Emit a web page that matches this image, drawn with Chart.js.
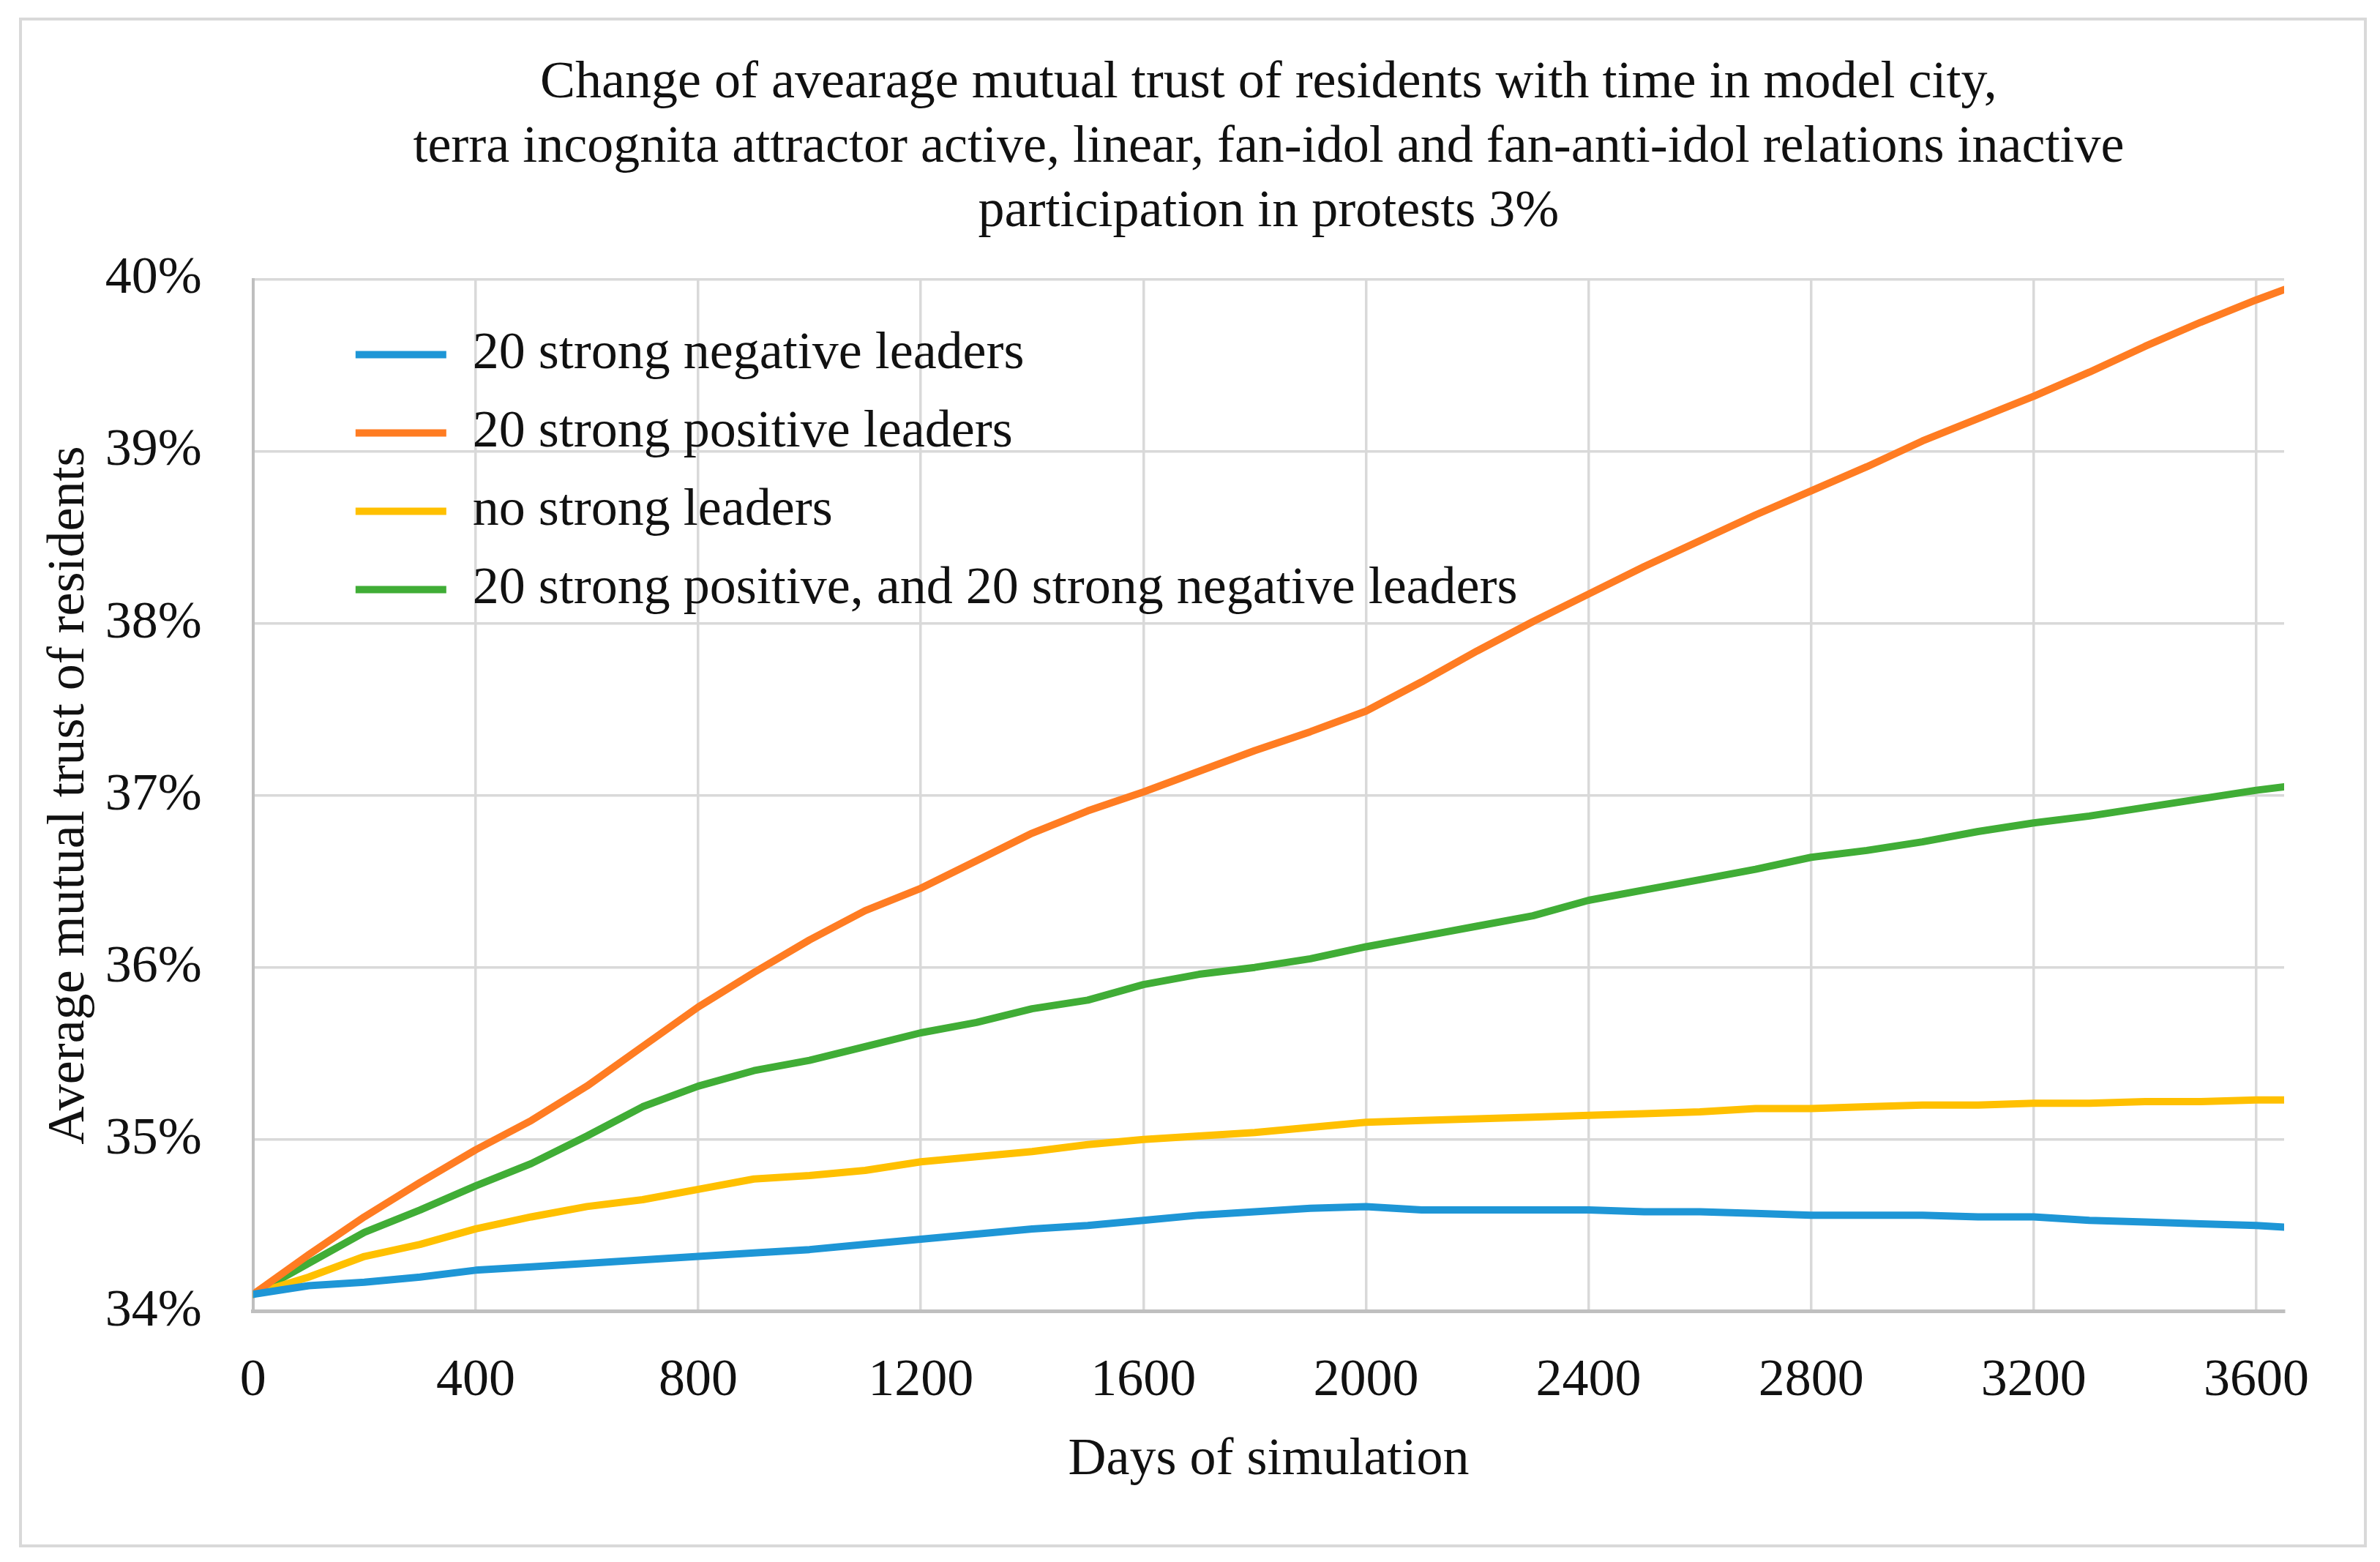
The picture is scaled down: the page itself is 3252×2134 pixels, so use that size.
<!DOCTYPE html>
<html>
<head>
<meta charset="utf-8">
<script src="https://cdn.jsdelivr.net/npm/chart.js@4"></script>
<style>
  body { margin: 0; background: #fff; }
  #frame {
    position: absolute; left: 26px; top: 24px;
    width: 3208px; height: 2090px;
    box-sizing: border-box; border: 4px solid #d9d9d9;
    pointer-events: none;
  }
  #trustChart { position: absolute; left: 0; top: 0; }
</style>
</head>
<body>
<canvas id="trustChart" width="3252" height="2134"></canvas>
<div id="frame"></div>
<script>
// days of simulation (x values)
const days = [0, 100, 200, 300, 400, 500, 600, 700, 800, 900, 1000, 1100, 1200,
              1300, 1400, 1500, 1600, 1700, 1800, 1900, 2000, 2100, 2200, 2300,
              2400, 2500, 2600, 2700, 2800, 2900, 3000, 3100, 3200, 3300, 3400,
              3500, 3600, 3650];

// tick labels
const xTicks = [0, 400, 800, 1200, 1600, 2000, 2400, 2800, 3200, 3600];
const yTicks = [34, 35, 36, 37, 38, 39, 40];

// average mutual trust, %
const negativeLeaders = [34.10, 34.15, 34.17, 34.20, 34.24, 34.26, 34.28, 34.30, 34.32, 34.34,
                         34.36, 34.39, 34.42, 34.45, 34.48, 34.50, 34.53, 34.56, 34.58, 34.60,
                         34.61, 34.59, 34.59, 34.59, 34.59, 34.58, 34.58, 34.57, 34.56, 34.56,
                         34.56, 34.55, 34.55, 34.53, 34.52, 34.51, 34.50, 34.49];
const positiveLeaders = [34.10, 34.33, 34.55, 34.75, 34.94, 35.11, 35.31, 35.54, 35.77, 35.97,
                         36.16, 36.33, 36.46, 36.62, 36.78, 36.91, 37.02, 37.14, 37.26, 37.37,
                         37.49, 37.66, 37.84, 38.01, 38.17, 38.33, 38.48, 38.63, 38.77, 38.91,
                         39.06, 39.19, 39.32, 39.46, 39.61, 39.75, 39.88, 39.94];
const noLeaders = [34.10, 34.20, 34.32, 34.39, 34.48, 34.55, 34.61, 34.65, 34.71, 34.77,
                   34.79, 34.82, 34.87, 34.90, 34.93, 34.97, 35.00, 35.02, 35.04, 35.07,
                   35.10, 35.11, 35.12, 35.13, 35.14, 35.15, 35.16, 35.18, 35.18, 35.19,
                   35.20, 35.20, 35.21, 35.21, 35.22, 35.22, 35.23, 35.23];
const bothLeaders = [34.10, 34.28, 34.46, 34.59, 34.73, 34.86, 35.02, 35.19, 35.31, 35.40,
                     35.46, 35.54, 35.62, 35.68, 35.76, 35.81, 35.90, 35.96, 36.00, 36.05,
                     36.12, 36.18, 36.24, 36.30, 36.39, 36.45, 36.51, 36.57, 36.64, 36.68,
                     36.73, 36.79, 36.84, 36.88, 36.93, 36.98, 37.03, 37.05];

const seriesNames = ['20 strong negative leaders', '20 strong positive leaders',
                     'no strong leaders', '20 strong positive, and 20 strong negative leaders'];
const seriesColors = ['#1E96D6', '#FF7C22', '#FFC000', '#40AD36'];

const titleLines = ['Change of avearage mutual trust of residents with time in model city,',
                    'terra incognita attractor active, linear, fan-idol and fan-anti-idol relations inactive',
                    'participation in protests 3%'];

const FONT = "'Liberation Serif', 'Times New Roman', serif";
const X_TICK_PAD = 52;
const Y_TICK_PAD = 70;

function toPoints(values) {
  return values.map((v, i) => ({ x: days[i], y: v }));
}

// put the legend box inside the plot, near its top-left corner
const legendInPlot = {
  id: 'legendInPlot',
  afterLayout(chart) {
    const lg = chart.legend;
    const area = chart.chartArea;
    lg.left = area.left + 105;
    lg.top = area.top + 32;
    lg.right = area.right;
    lg.bottom = area.bottom;
  }
};

const ctx = document.getElementById('trustChart').getContext('2d');
const allSeries = [negativeLeaders, positiveLeaders, noLeaders, bothLeaders];

new Chart(ctx, {
  type: 'line',
  data: {
    datasets: allSeries.map((values, i) => ({
      label: seriesNames[i],
      data: toPoints(values),
      borderColor: seriesColors[i],
      backgroundColor: seriesColors[i],
      borderWidth: 10,
      borderCapStyle: 'round',
      borderJoinStyle: 'round',
      pointRadius: 0,
      tension: 0
    }))
  },
  options: {
    responsive: false,
    devicePixelRatio: 1,
    animation: false,
    layout: { padding: { left: 36, right: 131, top: 70, bottom: 60 } },
    scales: {
      x: {
        type: 'linear',
        min: 0,
        max: 3650,
        afterBuildTicks: function (axis) {
          axis.ticks = xTicks.map(v => ({ value: v }));
        },
        // the tick padding ends up counted twice in the axis size
        afterFit: function (axis) {
          axis.height -= X_TICK_PAD;
        },
        grid: { color: '#d9d9d9', lineWidth: 3.5, drawTicks: false },
        border: { color: '#bfbfbf', width: 5 },
        ticks: {
          autoSkip: false,
          maxRotation: 0,
          minRotation: 0,
          padding: X_TICK_PAD,
          color: '#111',
          font: { family: FONT, size: 72 },
          callback: function (value) {
            return String(value);
          }
        },
        title: {
          display: true,
          text: 'Days of simulation',
          color: '#111',
          font: { family: FONT, size: 72, lineHeight: 1.22 },
          padding: { top: 21, bottom: 35 }
        }
      },
      y: {
        min: 34,
        max: 40,
        afterBuildTicks: function (axis) {
          axis.ticks = yTicks.map(v => ({ value: v }));
        },
        afterFit: function (axis) {
          axis.width -= Y_TICK_PAD;
        },
        grid: { color: '#d9d9d9', lineWidth: 3.5, drawTicks: false },
        border: { color: '#bfbfbf', width: 4 },
        ticks: {
          padding: Y_TICK_PAD,
          color: '#111',
          font: { family: FONT, size: 72 },
          callback: function (value) {
            return value + '%';
          }
        },
        title: {
          display: true,
          text: 'Average mutual trust of residents',
          color: '#111',
          font: { family: FONT, size: 72, lineHeight: 1.22 },
          padding: { top: 15, bottom: 5 }
        }
      }
    },
    plugins: {
      title: {
        display: true,
        text: titleLines,
        fullSize: false,
        color: '#111',
        font: { family: FONT, size: 72, weight: 'normal', lineHeight: 1.22 },
        padding: { top: 0, bottom: 48 }
      },
      legend: {
        position: 'chartArea',
        align: 'start',
        labels: {
          usePointStyle: true,
          pointStyle: 'line',
          pointStyleWidth: 124,
          padding: 35,
          color: '#111',
          font: { family: FONT, size: 72 }
        }
      },
      tooltip: { enabled: false }
    }
  },
  plugins: [legendInPlot]
});
</script>
</body>
</html>
